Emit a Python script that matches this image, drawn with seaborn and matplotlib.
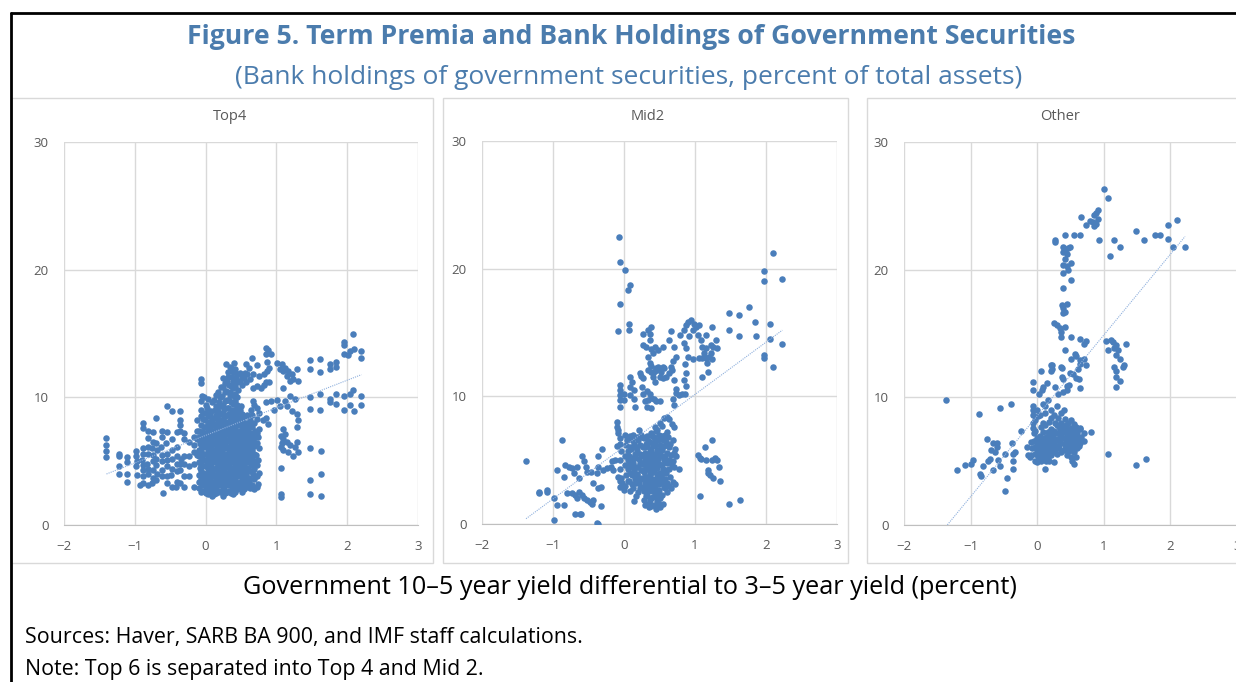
import numpy as np
import pandas as pd
import matplotlib
matplotlib.use("Agg")
import matplotlib.pyplot as plt
import seaborn as sns
from matplotlib.patches import Rectangle
from matplotlib.lines import Line2D

# Points: (yield differential, holdings % of assets)
top4_points = [
    (-1.40, 6.8), (-1.40, 6.3), (-1.40, 5.8), (-1.40, 5.3),
    (-1.22, 5.6), (-1.22, 5.4), (-1.22, 4.6), (-1.22, 4.0),
    (-1.11, 5.3), (-1.11, 4.9), (-1.11, 4.0), (-1.11, 3.4),
    (-0.98, 5.8), (-0.98, 5.4), (-0.97, 5.0), (-0.98, 4.6), (-0.97, 3.9), (-0.93, 3.1),
    (-0.89, 8.0), (-0.88, 7.6), (-0.89, 6.0), (-0.89, 5.6), (-0.90, 5.1), (-0.89, 4.7),
    (-0.89, 4.3), (-0.88, 3.8), (-0.89, 3.3),
    (-0.82, 7.4), (-0.82, 6.8), (-0.81, 6.1), (-0.82, 5.6), (-0.83, 4.8), (-0.82, 4.4),
    (-0.81, 4.0), (-0.82, 3.1),
    (-0.75, 7.3), (-0.75, 6.5), (-0.76, 6.0), (-0.75, 5.5), (-0.74, 5.0), (-0.75, 4.3),
    (-0.75, 3.7), (-0.76, 3.3),
    (-0.70, 8.4), (-0.70, 6.4), (-0.69, 5.9), (-0.70, 5.2), (-0.70, 4.7), (-0.69, 4.0), (-0.70, 3.5),
    (-0.62, 7.4), (-0.62, 6.9), (-0.63, 6.1), (-0.62, 5.5), (-0.62, 5.0), (-0.61, 4.3),
    (-0.62, 3.8), (-0.60, 2.5),
    (-0.55, 9.3), (-0.55, 7.3), (-0.56, 6.4), (-0.55, 5.6), (-0.55, 5.1), (-0.54, 4.6),
    (-0.55, 3.8), (-0.55, 3.3),
    (-0.48, 8.9), (-0.48, 6.7), (-0.47, 5.9), (-0.48, 5.2), (-0.48, 4.4), (-0.49, 3.9), (-0.48, 3.0),
    (-0.41, 7.3), (-0.41, 6.1), (-0.40, 5.4), (-0.41, 4.8), (-0.41, 4.2), (-0.41, 3.4), (-0.42, 3.0),
    (-0.36, 8.9), (-0.36, 8.2), (-0.36, 7.8), (-0.36, 7.4), (-0.35, 5.2), (-0.36, 4.8),
    (-0.36, 4.3), (-0.36, 3.3),
    (-0.31, 7.2), (-0.31, 6.7), (-0.31, 5.4), (-0.31, 4.8), (-0.30, 3.8), (-0.31, 3.0),
    (-0.24, 6.5), (-0.24, 5.4), (-0.24, 4.6), (-0.24, 3.8),
    (-0.17, 6.9), (-0.17, 6.3), (-0.17, 5.7), (-0.17, 4.8), (-0.17, 3.0),
    (-0.12, 8.2), (-0.12, 7.4), (-0.12, 6.7), (-0.12, 5.5),
    (-0.06, 11.4), (-0.06, 11.1), (-0.05, 10.1), (-0.06, 9.7), (-0.06, 9.0), (-0.06, 8.5), (-0.06, 7.8),
    # dense core
    (-0.09, 2.9), (-0.10, 3.4), (-0.09, 3.9), (-0.08, 4.5), (-0.09, 4.9), (-0.10, 5.4),
    (-0.09, 5.9), (-0.08, 6.4), (-0.09, 6.9), (-0.10, 7.4), (-0.02, 10.0),
    (-0.06, 2.6), (-0.05, 3.1), (-0.06, 3.6), (-0.07, 4.2), (-0.06, 4.7), (-0.05, 5.2),
    (-0.06, 5.8), (-0.07, 6.3), (-0.06, 6.8), (-0.05, 7.3),
    (-0.03, 2.7), (-0.02, 3.2), (-0.03, 3.7), (-0.04, 4.1), (-0.03, 4.6), (-0.02, 5.1),
    (-0.03, 5.6), (-0.03, 6.1), (-0.04, 6.6), (-0.03, 7.1), (-0.02, 7.7), (-0.03, 8.3), (-0.03, 8.8),
    (0.00, 2.5), (0.01, 3.0), (0.00, 3.5), (-0.01, 4.0), (0.00, 4.6), (0.01, 5.1), (0.00, 5.6),
    (-0.01, 6.2), (0.00, 6.7), (0.01, 7.2), (0.00, 7.7), (-0.01, 8.2), (0.00, 8.8), (0.01, 9.4),
    (0.03, 2.4), (0.02, 2.9), (0.03, 3.4), (0.04, 3.9), (0.03, 4.4), (0.02, 4.9), (0.03, 5.4),
    (0.04, 5.9), (0.03, 6.4), (0.02, 6.9), (0.03, 7.4), (0.04, 7.9), (0.03, 8.5), (0.02, 9.2), (0.03, 9.9),
    (0.06, 2.6), (0.07, 3.1), (0.06, 3.6), (0.05, 4.1), (0.06, 4.6), (0.07, 5.1), (0.06, 5.6),
    (0.05, 6.1), (0.06, 6.6), (0.07, 7.1), (0.06, 7.6), (0.05, 8.1), (0.06, 8.7),
    (0.09, 2.3), (0.08, 2.8), (0.09, 3.3), (0.10, 3.8), (0.09, 4.3), (0.08, 4.8), (0.09, 5.3),
    (0.10, 5.8), (0.09, 6.3), (0.08, 6.8), (0.09, 7.3), (0.10, 7.8), (0.09, 8.3), (0.08, 8.9), (0.09, 9.6),
    (0.12, 2.4), (0.13, 2.9), (0.12, 3.4), (0.11, 3.9), (0.12, 4.4), (0.13, 4.9), (0.12, 5.4),
    (0.11, 5.9), (0.12, 6.4), (0.13, 6.9), (0.12, 7.4), (0.11, 7.9), (0.12, 8.4), (0.13, 9.0), (0.12, 9.8),
    (0.15, 2.5), (0.14, 3.0), (0.15, 3.5), (0.16, 4.0), (0.15, 4.5), (0.14, 5.0), (0.15, 5.5),
    (0.16, 6.0), (0.15, 6.5), (0.14, 7.0), (0.15, 7.5), (0.16, 8.0), (0.15, 8.6), (0.14, 9.3), (0.15, 10.2),
    (0.18, 2.7), (0.19, 3.2), (0.18, 3.7), (0.17, 4.2), (0.18, 4.7), (0.19, 5.2), (0.18, 5.7),
    (0.17, 6.2), (0.18, 6.7), (0.19, 7.2), (0.18, 7.7), (0.17, 8.3), (0.18, 8.9), (0.19, 9.6), (0.18, 10.4),
    (0.21, 2.6), (0.20, 3.1), (0.21, 3.6), (0.22, 4.1), (0.21, 4.6), (0.20, 5.1), (0.21, 5.6),
    (0.22, 6.1), (0.21, 6.6), (0.20, 7.1), (0.21, 7.6), (0.22, 8.1), (0.21, 8.7), (0.20, 9.3),
    (0.21, 10.0), (0.22, 10.8),
    (0.24, 2.3), (0.25, 2.8), (0.24, 3.3), (0.23, 3.8), (0.24, 4.3), (0.25, 4.8), (0.24, 5.3),
    (0.23, 5.8), (0.24, 6.3), (0.25, 6.8), (0.24, 7.3), (0.23, 7.8), (0.24, 8.3), (0.25, 8.8),
    (0.24, 9.4), (0.23, 10.1), (0.24, 10.8), (0.25, 11.5),
    (0.27, 2.5), (0.26, 3.0), (0.27, 3.5), (0.28, 4.0), (0.27, 4.5), (0.26, 5.0), (0.27, 5.5),
    (0.28, 6.0), (0.27, 6.5), (0.26, 7.0), (0.27, 7.5), (0.28, 8.0), (0.27, 8.5), (0.26, 9.1),
    (0.27, 9.7), (0.28, 10.4), (0.27, 11.1), (0.29, 12.6),
    (0.30, 2.6), (0.31, 3.1), (0.30, 3.6), (0.29, 4.1), (0.30, 4.6), (0.31, 5.1), (0.30, 5.6),
    (0.29, 6.1), (0.30, 6.6), (0.31, 7.1), (0.30, 7.6), (0.29, 8.1), (0.30, 8.6), (0.31, 9.2),
    (0.30, 9.8), (0.29, 10.5), (0.30, 11.3), (0.31, 12.0),
    (0.33, 2.7), (0.32, 3.2), (0.33, 3.7), (0.34, 4.2), (0.33, 4.7), (0.32, 5.2), (0.33, 5.7),
    (0.34, 6.2), (0.33, 6.7), (0.32, 7.2), (0.33, 7.7), (0.34, 8.2), (0.33, 8.7), (0.32, 9.2),
    (0.33, 9.8), (0.34, 10.4), (0.33, 11.0), (0.32, 11.6), (0.34, 12.4),
    (0.36, 2.5), (0.37, 3.0), (0.36, 3.5), (0.35, 4.0), (0.36, 4.5), (0.37, 5.0), (0.36, 5.5),
    (0.35, 6.0), (0.36, 6.5), (0.37, 7.0), (0.36, 7.5), (0.35, 8.0), (0.36, 8.5), (0.37, 9.0),
    (0.36, 9.6), (0.35, 10.2), (0.36, 10.9), (0.37, 11.6), (0.36, 12.3),
    (0.39, 2.4), (0.38, 2.9), (0.39, 3.4), (0.40, 3.9), (0.39, 4.4), (0.38, 4.9), (0.39, 5.4),
    (0.40, 5.9), (0.39, 6.4), (0.38, 6.9), (0.39, 7.4), (0.40, 7.9), (0.39, 8.4), (0.38, 8.9),
    (0.39, 9.5), (0.40, 10.1), (0.39, 10.7), (0.38, 11.3), (0.39, 12.0), (0.40, 12.7),
    (0.42, 2.6), (0.43, 3.1), (0.42, 3.6), (0.41, 4.1), (0.42, 4.6), (0.43, 5.1), (0.42, 5.6),
    (0.41, 6.1), (0.42, 6.6), (0.43, 7.1), (0.42, 7.6), (0.41, 8.1), (0.42, 8.6), (0.43, 9.1),
    (0.42, 9.7), (0.41, 10.3), (0.42, 10.9), (0.43, 11.5), (0.42, 12.2),
    (0.45, 2.8), (0.44, 3.3), (0.45, 3.8), (0.46, 4.3), (0.45, 4.8), (0.44, 5.3), (0.45, 5.8),
    (0.46, 6.3), (0.45, 6.8), (0.44, 7.3), (0.45, 7.8), (0.46, 8.3), (0.45, 8.8), (0.44, 9.4),
    (0.45, 10.0), (0.46, 10.6), (0.45, 11.2), (0.44, 11.8),
    (0.48, 2.9), (0.49, 3.4), (0.48, 3.9), (0.47, 4.4), (0.48, 4.9), (0.49, 5.4), (0.48, 5.9),
    (0.47, 6.4), (0.48, 6.9), (0.49, 7.4), (0.48, 7.9), (0.47, 8.4), (0.48, 9.0), (0.49, 11.3), (0.48, 11.9),
    (0.51, 2.6), (0.50, 3.1), (0.51, 3.6), (0.52, 4.1), (0.51, 4.6), (0.50, 5.1), (0.51, 5.6),
    (0.52, 6.1), (0.51, 6.6), (0.50, 7.1), (0.51, 7.6), (0.52, 8.1), (0.51, 8.7), (0.50, 9.3),
    (0.51, 11.0), (0.52, 11.6),
    (0.54, 2.8), (0.55, 3.3), (0.54, 3.8), (0.53, 4.3), (0.54, 4.8), (0.55, 5.3), (0.54, 5.8),
    (0.53, 6.3), (0.54, 6.8), (0.55, 7.3), (0.54, 7.8), (0.53, 8.4), (0.54, 11.5),
    (0.57, 3.0), (0.56, 3.5), (0.57, 4.0), (0.58, 4.5), (0.57, 5.0), (0.56, 5.5), (0.57, 6.0),
    (0.58, 6.5), (0.57, 7.0), (0.56, 7.5), (0.57, 8.0), (0.58, 8.6), (0.57, 11.2), (0.56, 11.9), (0.57, 12.6),
    (0.60, 3.2), (0.61, 3.7), (0.60, 4.4), (0.59, 4.9), (0.60, 5.4), (0.61, 5.9), (0.60, 6.4),
    (0.59, 6.9), (0.60, 7.4), (0.61, 7.9), (0.60, 8.5), (0.59, 11.8),
    (0.63, 2.9), (0.62, 3.4), (0.63, 4.2), (0.64, 4.7), (0.63, 5.2), (0.62, 5.7), (0.63, 6.2),
    (0.64, 6.7), (0.63, 7.2), (0.62, 7.7), (0.63, 8.2), (0.64, 9.0), (0.63, 11.4), (0.62, 12.3),
    (0.66, 3.1), (0.67, 4.0), (0.66, 4.8), (0.65, 5.3), (0.66, 5.9), (0.67, 6.5), (0.66, 7.1),
    (0.65, 7.7), (0.66, 8.6),
    (0.69, 2.8), (0.68, 3.6), (0.69, 4.4), (0.70, 5.0), (0.69, 5.6), (0.68, 6.2), (0.69, 6.8),
    (0.70, 7.4), (0.69, 8.0), (0.68, 9.4),
    (0.72, 3.0), (0.73, 3.8), (0.72, 4.7), (0.71, 5.5), (0.72, 6.4), (0.73, 7.2), (0.72, 8.3),
    (0.74, 3.2), (0.75, 4.1), (0.74, 5.1), (0.75, 6.0), (0.74, 6.9), (0.75, 7.5),
    # right of the core
    (0.65, 13.1), (0.72, 12.5), (0.67, 11.8), (0.76, 11.7), (0.83, 11.8), (0.87, 12.1),
    (0.90, 11.2), (0.83, 11.0), (0.72, 10.9), (0.67, 10.7), (0.78, 10.7), (0.85, 11.2),
    (0.89, 12.3), (0.87, 12.8), (0.92, 13.4), (0.85, 13.4), (0.86, 13.9), (0.88, 13.7),
    (1.01, 12.7), (1.08, 12.6), (1.12, 12.3), (1.17, 12.1), (1.22, 11.8), (1.24, 11.4),
    (1.31, 11.3), (1.10, 12.1), (1.15, 11.7), (1.19, 11.3), (1.29, 12.2), (1.05, 12.2),
    (1.10, 10.7), (1.19, 10.1), (1.26, 9.9), (1.12, 9.7), (1.05, 9.3), (1.15, 9.3),
    (1.22, 8.9), (1.29, 8.7), (0.96, 9.0), (0.92, 9.7), (0.85, 9.6), (1.01, 9.8),
    (0.67, 9.7), (0.72, 9.2), (0.76, 8.8), (0.86, 8.4), (0.88, 7.9), (0.81, 8.2),
    (1.06, 7.0), (1.10, 6.7), (1.15, 6.5), (1.19, 6.3), (1.26, 6.1), (1.31, 5.7),
    (1.06, 6.1), (1.10, 5.9), (1.17, 5.7), (1.24, 5.4), (1.29, 6.5), (1.12, 7.1), (1.08, 6.4),
    (1.10, 7.5), (1.29, 7.7), (1.31, 8.2),
    (1.07, 4.5), (1.07, 2.4), (1.07, 2.2), (1.48, 6.0), (1.63, 5.8), (1.63, 4.0),
    (1.48, 3.5), (1.48, 2.4), (1.63, 2.3),
    (1.48, 12.9), (1.61, 13.0), (1.48, 12.2), (1.61, 12.0), (1.76, 12.6), (1.76, 12.2),
    (1.84, 12.8), (1.84, 12.4), (1.96, 14.3), (1.96, 14.1), (1.95, 13.4), (2.01, 13.3),
    (2.04, 13.6), (2.08, 15.0), (2.20, 13.6), (2.20, 13.1), (2.09, 13.8),
    (1.48, 10.0), (1.61, 10.3), (1.48, 9.1), (1.61, 9.0), (1.76, 9.9), (1.76, 9.6),
    (1.84, 10.3), (1.84, 9.5), (1.96, 10.1), (1.96, 9.0), (2.04, 10.3), (2.08, 10.6),
    (2.04, 9.4), (2.09, 8.9), (2.20, 10.1), (2.20, 9.4),
]

mid2_points = [
    (-1.38, 4.9), (-1.20, 2.4), (-1.20, 2.5), (-1.08, 2.7), (-1.08, 2.5), (-0.98, 2.0),
    (-0.95, 1.5), (-0.85, 1.5), (-0.98, 0.3), (-0.95, 4.2), (-0.88, 6.6), (-0.85, 3.7),
    (-0.83, 4.6), (-0.78, 4.5), (-0.73, 4.4), (-0.70, 4.0), (-0.66, 4.5), (-0.64, 3.6),
    (-0.80, 2.4), (-0.73, 2.4), (-0.69, 2.3), (-0.66, 2.0), (-0.64, 2.5), (-0.69, 0.8),
    (-0.62, 0.8), (-0.60, 0.8),
    (-0.59, 5.3), (-0.57, 4.9), (-0.54, 4.5), (-0.52, 4.1), (-0.59, 2.3), (-0.57, 2.0),
    (-0.52, 1.9), (-0.48, 1.7), (-0.45, 1.6), (-0.43, 1.9),
    (-0.47, 4.1), (-0.43, 3.2), (-0.38, 4.0), (-0.36, 4.5), (-0.36, 5.3), (-0.31, 5.9),
    (-0.33, 2.9), (-0.36, 2.8), (-0.33, 1.4), (-0.38, 0.05), (-0.36, 0.0),
    (-0.29, 4.2), (-0.24, 4.4), (-0.19, 4.5), (-0.17, 4.9), (-0.15, 4.2), (-0.12, 5.0),
    (-0.10, 8.0), (-0.10, 7.6), (-0.08, 7.4), (-0.08, 7.1), (-0.05, 6.7), (-0.05, 6.3),
    (-0.10, 6.1), (-0.08, 3.7), (-0.05, 3.4), (-0.03, 3.2), (0.00, 2.7),
    (-0.07, 22.5), (-0.06, 20.5), (0.02, 19.9), (0.05, 18.3), (0.09, 18.7), (-0.06, 17.2),
    (-0.08, 15.1), (0.07, 15.7), (0.07, 15.2),
    (-0.06, 10.9), (-0.06, 10.5), (-0.06, 10.1), (-0.06, 9.7), (-0.06, 9.2), (0.00, 10.2), (0.00, 9.7),
    (0.09, 11.5), (0.11, 11.1), (0.09, 10.7), (0.14, 10.5), (0.09, 10.1), (0.14, 9.8), (0.16, 9.2),
    (0.22, 11.8), (0.24, 11.6), (0.27, 11.4), (0.25, 10.7), (0.27, 10.2), (0.30, 9.6), (0.32, 9.2),
    (0.27, 14.9), (0.27, 14.0), (0.31, 13.9), (0.34, 15.2), (0.36, 14.9), (0.38, 15.4),
    (0.36, 14.4), (0.38, 13.7), (0.41, 13.4), (0.34, 13.1), (0.36, 12.6), (0.38, 12.4),
    (0.41, 11.5), (0.43, 11.1),
    (0.34, 12.1), (0.38, 11.9), (0.41, 11.8), (0.43, 12.0), (0.45, 12.2), (0.48, 12.3),
    (0.50, 12.1), (0.52, 11.9), (0.55, 12.3), (0.57, 12.2), (0.50, 11.5), (0.55, 11.4),
    (0.59, 11.5), (0.64, 11.8), (0.66, 12.3), (0.68, 12.1), (0.71, 11.3),
    (0.32, 10.4), (0.36, 10.2), (0.38, 9.9), (0.42, 9.8), (0.45, 9.6), (0.50, 9.6), (0.34, 9.7), (0.38, 9.1),
    (0.43, 13.9), (0.48, 13.6), (0.55, 13.9), (0.64, 14.4), (0.66, 15.1), (0.71, 13.9),
    (0.73, 13.1), (0.69, 12.8),
    (0.73, 10.6), (0.73, 10.3), (0.69, 9.8), (0.71, 9.3), (0.78, 10.1),
    (0.79, 14.8), (0.84, 15.2), (0.88, 15.6), (0.90, 15.8), (0.95, 16.0), (0.99, 15.7),
    (1.02, 15.4), (1.06, 15.6), (0.97, 15.2), (1.04, 14.8), (0.92, 14.7), (0.84, 14.2),
    (0.88, 13.8), (0.90, 13.1), (0.97, 12.9), (0.86, 12.5), (0.88, 11.8), (0.84, 11.3),
    (0.88, 10.8), (0.81, 10.2), (0.86, 10.2),
    (1.08, 14.4), (1.10, 13.9), (1.12, 13.4), (1.15, 13.0), (1.17, 12.6), (1.20, 13.1),
    (1.22, 13.4), (1.24, 12.9), (1.26, 13.9), (1.29, 14.4), (1.31, 13.8), (1.22, 14.0),
    (1.15, 13.8), (1.10, 13.0), (1.06, 13.0), (1.10, 11.5), (1.19, 11.9), (1.24, 15.4), (1.16, 14.8),
    (1.48, 16.5), (1.62, 16.4), (1.76, 17.0), (1.85, 15.8), (1.86, 14.7), (1.48, 15.2),
    (1.62, 14.7), (1.97, 13.0), (1.97, 13.2), (2.06, 15.7), (2.05, 14.5), (2.10, 12.3),
    (2.23, 14.1), (2.23, 19.2), (1.97, 19.8), (1.97, 19.0), (2.10, 21.2),
    (1.04, 5.4), (1.07, 5.2), (1.09, 5.1), (1.14, 6.0), (1.16, 5.0), (1.24, 6.6),
    (1.19, 4.2), (1.19, 4.0), (1.21, 3.8), (1.24, 5.0), (1.26, 3.6), (1.28, 5.2),
    (1.31, 5.0), (1.34, 4.5), (1.35, 3.4), (1.07, 2.2), (0.78, 4.3), (1.48, 1.6), (1.64, 1.9),
    # dense lower cluster
    (-0.05, 2.9), (-0.04, 3.6), (-0.05, 4.3), (-0.06, 5.0), (-0.04, 5.7),
    (0.02, 3.0), (0.03, 3.8), (0.01, 4.6), (0.02, 5.3), (0.03, 6.2), (0.02, 7.0),
    (0.05, 3.4), (0.05, 4.3), (0.06, 5.0), (0.05, 5.7), (0.04, 6.6),
    (0.08, 2.6), (0.07, 3.4), (0.09, 4.0), (0.08, 4.7), (0.07, 5.3), (0.09, 6.0), (0.08, 6.9),
    (0.11, 3.1), (0.11, 3.8), (0.12, 4.5), (0.11, 5.2), (0.10, 5.9), (0.11, 6.6),
    (0.14, 1.8), (0.13, 2.8), (0.15, 3.5), (0.14, 4.2), (0.13, 4.8), (0.15, 5.5), (0.14, 6.3), (0.13, 7.0),
    (0.17, 2.2), (0.17, 3.2), (0.18, 3.8), (0.17, 4.5), (0.16, 5.2), (0.17, 6.0), (0.18, 6.8),
    (0.20, 2.5), (0.21, 3.2), (0.19, 3.9), (0.20, 4.5), (0.21, 5.1), (0.19, 5.8), (0.20, 6.6), (0.21, 7.4),
    (0.23, 2.8), (0.23, 3.5), (0.24, 4.2), (0.23, 4.8), (0.22, 5.5), (0.23, 6.2), (0.24, 7.0),
    (0.26, 2.9), (0.25, 3.6), (0.27, 4.2), (0.26, 4.8), (0.25, 5.4), (0.27, 6.0), (0.26, 6.8),
    (0.28, 1.9), (0.28, 2.6), (0.29, 3.3), (0.28, 4.1), (0.27, 4.7), (0.28, 5.3), (0.29, 6.0), (0.28, 6.7),
    (0.30, 1.5), (0.31, 2.2), (0.29, 3.0), (0.30, 3.7), (0.31, 4.4), (0.29, 5.0), (0.30, 5.6), (0.31, 6.3),
    (0.33, 1.6), (0.33, 2.3), (0.34, 3.0), (0.33, 3.7), (0.32, 4.3), (0.33, 4.9), (0.34, 5.5),
    (0.33, 6.2), (0.32, 6.9),
    (0.35, 1.3), (0.36, 1.9), (0.34, 2.6), (0.35, 3.3), (0.36, 4.0), (0.34, 4.6), (0.35, 5.2),
    (0.36, 5.9), (0.34, 6.5),
    (0.38, 1.4), (0.38, 2.0), (0.39, 2.6), (0.38, 3.2), (0.37, 3.8), (0.38, 4.4), (0.39, 5.0),
    (0.38, 5.7), (0.37, 6.4), (0.38, 7.1),
    (0.40, 1.5), (0.41, 2.1), (0.39, 2.8), (0.40, 3.5), (0.41, 4.1), (0.39, 4.7), (0.40, 5.4),
    (0.41, 6.1), (0.39, 6.9),
    (0.43, 1.5), (0.43, 2.2), (0.44, 2.9), (0.43, 3.5), (0.42, 4.2), (0.43, 4.8), (0.44, 5.5),
    (0.43, 6.2), (0.42, 6.8), (0.43, 7.6),
    (0.45, 1.2), (0.46, 1.8), (0.44, 2.5), (0.45, 3.2), (0.46, 3.9), (0.44, 4.5), (0.45, 5.1),
    (0.46, 5.8), (0.44, 6.5), (0.45, 7.3),
    (0.48, 1.7), (0.48, 2.4), (0.49, 3.1), (0.48, 3.7), (0.47, 4.4), (0.48, 5.1), (0.49, 5.8),
    (0.48, 6.6), (0.47, 7.4),
    (0.50, 1.3), (0.51, 2.0), (0.49, 2.7), (0.50, 3.4), (0.51, 4.0), (0.49, 4.7), (0.50, 5.5),
    (0.51, 6.2), (0.49, 7.0), (0.50, 7.9),
    (0.53, 2.3), (0.53, 3.3), (0.54, 4.0), (0.53, 4.6), (0.52, 5.3), (0.53, 6.0), (0.54, 6.9), (0.53, 7.7),
    (0.55, 1.6), (0.56, 2.9), (0.54, 3.6), (0.55, 4.3), (0.56, 5.0), (0.54, 5.8), (0.55, 6.6), (0.56, 8.3),
    (0.58, 2.8), (0.58, 3.5), (0.59, 4.2), (0.58, 5.3), (0.57, 6.1), (0.58, 7.0),
    (0.60, 2.5), (0.61, 3.2), (0.59, 4.0), (0.60, 4.8), (0.61, 5.6), (0.59, 6.4), (0.60, 7.2), (0.61, 8.4),
    (0.63, 3.0), (0.63, 4.3), (0.64, 5.0), (0.63, 6.0), (0.62, 6.8), (0.63, 8.2),
    (0.66, 2.8), (0.65, 3.7), (0.67, 4.6), (0.66, 5.4), (0.65, 6.3), (0.67, 7.8),
    (0.69, 3.3), (0.69, 4.9), (0.70, 5.6), (0.69, 6.6),
    (0.72, 3.1), (0.71, 4.5), (0.73, 5.3), (0.72, 5.9), (0.71, 7.6),
]

other_points = [
    (-1.37, 9.8), (-1.20, 4.3), (-1.09, 4.7), (-0.96, 5.1), (-0.99, 4.8), (-0.88, 8.7),
    (-0.86, 4.0), (-0.84, 3.8), (-0.81, 4.6), (-0.76, 6.7), (-0.74, 5.0), (-0.71, 5.2),
    (-0.69, 5.9), (-0.66, 6.4), (-0.66, 4.3), (-0.64, 5.7), (-0.61, 6.1), (-0.59, 5.1),
    (-0.56, 4.6), (-0.61, 6.4),
    (-0.56, 9.2), (-0.49, 2.7), (-0.45, 3.7), (-0.49, 5.6), (-0.39, 9.5), (-0.38, 6.4),
    (-0.36, 5.6), (-0.34, 5.7), (-0.36, 5.0), (-0.37, 4.4), (-0.24, 7.4),
    (-0.16, 6.1), (-0.14, 5.5), (-0.11, 5.3),
    (-0.07, 9.3), (-0.07, 9.0), (-0.07, 8.6), (-0.06, 8.0), (-0.06, 7.6), (-0.05, 7.2),
    (-0.06, 11.2), (-0.06, 10.6), (0.02, 10.3), (0.07, 10.6), (0.09, 10.8), (0.05, 12.1),
    (0.14, 11.1), (0.21, 12.5), (0.21, 12.1), (0.26, 10.8), (0.36, 12.4), (0.37, 11.6),
    (0.31, 10.3), (0.39, 10.4), (0.44, 10.6),
    (0.26, 22.3), (0.27, 22.2), (0.41, 22.7), (0.55, 22.7), (0.65, 22.7),
    (0.39, 21.8), (0.39, 21.4), (0.41, 21.5), (0.44, 21.2), (0.46, 21.7), (0.49, 21.8),
    (0.41, 20.8), (0.39, 20.4), (0.44, 20.3), (0.46, 20.0), (0.51, 20.5), (0.39, 19.7),
    (0.51, 19.2), (0.38, 18.6),
    (0.37, 17.2), (0.39, 17.0), (0.41, 16.7), (0.44, 17.3), (0.38, 16.6),
    (0.25, 15.8), (0.29, 15.7), (0.34, 15.4), (0.41, 15.5), (0.36, 15.1), (0.36, 14.7),
    (0.51, 14.7), (0.64, 14.6), (0.71, 14.2), (0.74, 14.4),
    (0.41, 13.7), (0.51, 13.0), (0.57, 13.4), (0.58, 13.2), (0.64, 12.9), (0.71, 13.0),
    (0.74, 12.5), (0.64, 12.6), (0.49, 11.9), (0.54, 11.8), (0.61, 12.2), (0.63, 11.4),
    (0.64, 10.7), (0.22, 12.5), (0.22, 12.2), (0.37, 12.3), (0.38, 11.4), (0.44, 10.9),
    (0.48, 11.0), (0.59, 11.5),
    (0.66, 24.1), (0.74, 23.5), (0.79, 23.8), (0.84, 23.7), (0.89, 23.6), (0.86, 23.4),
    (0.91, 24.0), (0.91, 24.7), (0.89, 24.4), (0.86, 24.3), (1.00, 26.3), (1.06, 25.6),
    (0.93, 22.3), (1.09, 21.1), (1.16, 22.3), (1.25, 21.8),
    (1.48, 23.0), (1.61, 22.3), (1.77, 22.7), (1.85, 22.7), (1.96, 23.5), (2.10, 23.9),
    (1.97, 22.4), (2.04, 21.8), (2.22, 21.8),
    (1.04, 14.4), (1.11, 14.5), (1.14, 14.3), (1.16, 13.9), (1.19, 14.1), (1.21, 13.7),
    (1.06, 13.7), (1.19, 13.3), (1.24, 13.0), (1.33, 14.2), (1.31, 12.5), (1.29, 12.4),
    (1.16, 12.4), (1.19, 12.1), (1.18, 11.6), (1.24, 11.3), (1.19, 10.8),
    (1.06, 5.6), (1.48, 4.7), (1.63, 5.2), (0.81, 7.3),
    # dense lower cluster
    (-0.09, 5.5), (-0.08, 6.0), (-0.09, 6.5),
    (-0.04, 5.0), (-0.03, 5.6), (-0.04, 6.1), (-0.05, 6.6), (-0.04, 7.4), (-0.03, 8.2),
    (0.00, 4.9), (0.01, 5.4), (0.00, 5.9), (-0.01, 6.3), (0.00, 6.8), (0.01, 8.5), (0.00, 9.0),
    (0.02, 5.2), (0.02, 5.7), (0.03, 6.2), (0.02, 6.6),
    (0.04, 5.1), (0.05, 5.6), (0.04, 6.0), (0.03, 6.5), (0.04, 7.0), (0.05, 7.7), (0.04, 8.6),
    (0.06, 5.0), (0.06, 5.4), (0.07, 5.9), (0.06, 6.3), (0.06, 6.8),
    (0.08, 5.3), (0.09, 5.8), (0.08, 6.2), (0.07, 6.6), (0.08, 7.3), (0.09, 8.0), (0.08, 9.5),
    (0.10, 5.2), (0.10, 5.7), (0.11, 6.2), (0.10, 6.7),
    (0.12, 4.4), (0.13, 5.0), (0.12, 5.6), (0.11, 6.0), (0.12, 6.4), (0.13, 6.9), (0.12, 7.8),
    (0.11, 8.8), (0.12, 9.3),
    (0.14, 5.5), (0.14, 6.0), (0.15, 6.5),
    (0.16, 5.3), (0.17, 5.8), (0.16, 6.2), (0.15, 6.7), (0.16, 7.3), (0.17, 8.1), (0.16, 9.8),
    (0.18, 5.0), (0.18, 5.6), (0.19, 6.1), (0.18, 6.6), (0.18, 7.0),
    (0.20, 5.5), (0.21, 6.0), (0.20, 6.4), (0.19, 6.9), (0.20, 7.5), (0.21, 8.4), (0.20, 9.0),
    (0.23, 5.7), (0.23, 6.2), (0.24, 6.7), (0.23, 7.2),
    (0.25, 4.9), (0.26, 5.9), (0.25, 6.4), (0.24, 6.9), (0.25, 7.4), (0.26, 8.0), (0.25, 8.6),
    (0.30, 5.6), (0.31, 6.2), (0.30, 6.7), (0.29, 7.2), (0.30, 7.8), (0.31, 8.4), (0.30, 9.3),
    (0.33, 6.0), (0.33, 6.6), (0.34, 7.1), (0.33, 7.7),
    (0.35, 5.7), (0.36, 6.4), (0.35, 6.9), (0.34, 7.4), (0.35, 8.0), (0.36, 8.8),
    (0.40, 5.9), (0.41, 6.3), (0.40, 6.8), (0.39, 7.3), (0.40, 7.7), (0.41, 8.3), (0.40, 9.0),
    (0.43, 6.0), (0.43, 6.4), (0.44, 7.0), (0.43, 7.8),
    (0.45, 5.5), (0.46, 6.1), (0.45, 6.6), (0.44, 7.1), (0.45, 7.5), (0.46, 8.0),
    (0.48, 5.8), (0.48, 6.3), (0.49, 6.8), (0.48, 7.3),
    (0.50, 5.3), (0.51, 6.0), (0.50, 6.5), (0.49, 7.0), (0.50, 7.6), (0.51, 8.2),
    (0.53, 5.0), (0.53, 6.1), (0.54, 6.6), (0.53, 7.2),
    (0.55, 4.8), (0.56, 5.7), (0.55, 6.3), (0.54, 6.8), (0.55, 7.4), (0.56, 7.9),
    (0.58, 5.3), (0.58, 6.3), (0.59, 6.9), (0.58, 7.5),
    (0.60, 6.0), (0.61, 6.6), (0.60, 7.2), (0.59, 7.7),
    (0.63, 6.2), (0.63, 6.8), (0.64, 7.6),
    (0.65, 6.4), (0.66, 6.9), (0.65, 7.5),
    (0.70, 6.6), (0.71, 7.2),
]

panel_titles = ["Top4", "Mid2", "Other"]
# linear trend lines (slope, intercept) as drawn in the reference
trend_slopes = [2.16, 4.09, 6.33]
trend_intercepts = [7.02, 6.06, 8.55]
x_ticks = [-2, -1, 0, 1, 2, 3]
y_ticks = [0, 10, 20, 30]

DOT = "#4a7ebb"
TREND = "#8fb0dd"
TITLE_BLUE = "#4b7cad"
GRID = "#d9d9d9"
TICK = "#595959"

W, H = 1236, 682


def px(x, y):
    # pixel position (from top-left) -> figure fraction
    return x / W, 1 - y / H


sns.set_style("white")
plt.rcParams['font.family'] = ['Open Sans', 'DejaVu Sans']

fig = plt.figure(figsize=(W / 100, H / 100), dpi=100)

# axes boxes: (left px, right px, top px, bottom px)
boxes = [(64, 418, 142, 525), (482, 837, 141, 524), (904, 1237, 142, 525)]
title_x = [230, 648, 1060]
frames = [(11, 433), (443, 848), (867, 1240)]

for (fl, fr) in frames:
    x0, y0 = px(fl, 563)
    x1, y1 = px(fr, 98)
    fig.add_artist(Rectangle((x0, y0), x1 - x0, y1 - y0, transform=fig.transFigure,
                             fill=False, edgecolor="#d9d9d9", linewidth=1))

for i, pts in enumerate([top4_points, mid2_points, other_points]):
    l, r, t, b = boxes[i]
    x0, y0 = px(l, b)
    x1, y1 = px(r, t)
    ax = fig.add_axes([x0, y0, x1 - x0, y1 - y0])
    df = pd.DataFrame(pts, columns=["spread", "holdings"])
    ax.set_axisbelow(True)
    ax.grid(True, color=GRID, linewidth=1)
    sns.scatterplot(data=df, x="spread", y="holdings", ax=ax, color=DOT,
                    s=22, linewidth=0, legend=False, zorder=3)
    xs = np.array([df["spread"].min(), df["spread"].max()])
    ax.plot(xs, trend_intercepts[i] + trend_slopes[i] * xs, linestyle=(0, (1, 1)),
            linewidth=0.8, color=TREND, zorder=4)
    ax.set_xlim(-2, 3)
    ax.set_ylim(0, 30)
    ax.set_xticks(x_ticks)
    ax.set_yticks(y_ticks)
    ax.set_xlabel("")
    ax.set_ylabel("")
    for side in ["top", "left", "right"]:
        ax.spines[side].set_visible(False)
    ax.spines["bottom"].set_color("#bfbfbf")
    ax.tick_params(length=0, labelsize=9.5, colors=TICK, pad=11)
    tx, ty = px(title_x[i], 116)
    fig.text(tx, ty, panel_titles[i], ha="center", va="center", fontsize=10.5, color=TICK)

# outer border (top and left)
fig.add_artist(Line2D([px(11, 0)[0], px(1236, 0)[0]], [px(0, 13)[1]] * 2,
                      transform=fig.transFigure, color="black", linewidth=2))
fig.add_artist(Line2D([px(11, 0)[0]] * 2, [px(0, 13)[1], 0],
                      transform=fig.transFigure, color="black", linewidth=2))

fig.text(*px(631, 37), "Figure 5. Term Premia and Bank Holdings of Government Securities",
         ha="center", va="center", fontsize=19.2, fontweight="bold", color=TITLE_BLUE)
fig.text(*px(629, 78), "(Bank holdings of government securities, percent of total assets)",
         ha="center", va="center", fontsize=19, color=TITLE_BLUE)
fig.text(*px(630, 587), "Government 10\u20135 year yield differential to 3\u20135 year yield (percent)",
         ha="center", va="center", fontsize=18.2, color="black")
fig.text(*px(25, 637), "Sources: Haver, SARB BA 900, and IMF staff calculations.",
         ha="left", va="center", fontsize=15.4, color="black")
fig.text(*px(25, 669), "Note: Top 6 is separated into Top 4 and Mid 2.",
         ha="left", va="center", fontsize=15.4, color="black")

fig.savefig("out.png", dpi=100)
